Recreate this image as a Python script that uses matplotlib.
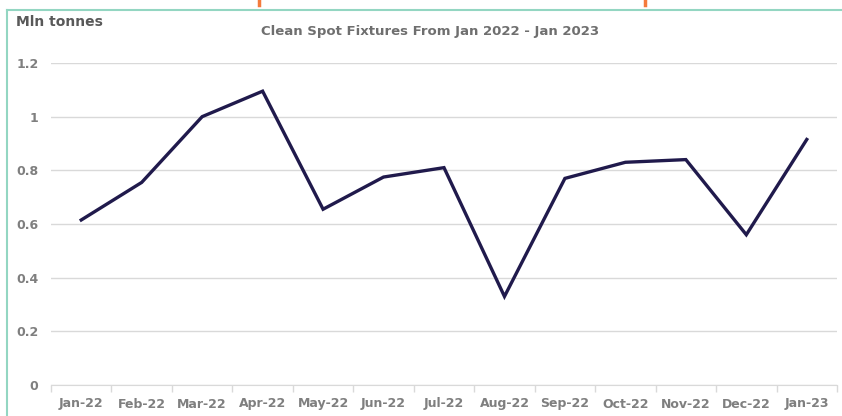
import matplotlib.pyplot as plt
from matplotlib.lines import Line2D
import numpy as np

months = ["Jan-22", "Feb-22", "Mar-22", "Apr-22", "May-22", "Jun-22", "Jul-22",
          "Aug-22", "Sep-22", "Oct-22", "Nov-22", "Dec-22", "Jan-23"]
fixtures = [0.615, 0.755, 1.0, 1.095, 0.655, 0.775, 0.81,
            0.33, 0.77, 0.83, 0.84, 0.56, 0.915]
yticks = [0, 0.2, 0.4, 0.6, 0.8, 1, 1.2]
ytick_labels = ["0", "0.2", "0.4", "0.6", "0.8", "1", "1.2"]

plt.rcParams['font.family'] = ['Liberation Sans Narrow', 'DejaVu Sans']
grey = "#7f7f7f"

fig = plt.figure(figsize=(8.42, 4.16), dpi=100)
ax = fig.add_axes([51/842, 1-385/416, (837-51)/842, (385-63)/416])

x = np.arange(len(months))
ax.plot(x, fixtures, color="#201a4c", linewidth=2.4, solid_joinstyle="miter")

ax.set_xlim(-0.5, len(months) - 0.5)
ax.set_ylim(0, 1.2)
ax.set_yticks(yticks)
ax.set_yticklabels(ytick_labels, fontsize=9, fontweight="bold", color=grey)
ax.tick_params(axis="y", length=0, pad=9)
ax.yaxis.grid(True, color="#d9d9d9", linewidth=1)
ax.set_axisbelow(True)

ax.set_xticks(x)
ax.set_xticklabels(months, fontsize=9, fontweight="bold", color=grey)
ax.tick_params(axis="x", length=0, pad=9)
ax.set_xticks(np.arange(len(months) + 1) - 0.5, minor=True)
ax.tick_params(axis="x", which="minor", length=5, color="#d9d9d9", width=1)

for s in ["top", "right", "left"]:
    ax.spines[s].set_visible(False)
ax.spines["bottom"].set_color("#d9d9d9")

fig.text(430/842, 1-32/416, "Clean Spot Fixtures From Jan 2022 - Jan 2023",
         ha="center", va="center", fontsize=9.5, fontweight="bold", color="#6f6f6f")
fig.text(16/842, 1-22/416, "Mln tonnes", ha="left", va="center",
         fontsize=10, fontweight="bold", color="#595959")

# frame around the panel
teal = "#93d6c2"
fig.add_artist(Line2D([7/842, 1], [1-10/416, 1-10/416], color=teal, linewidth=1.5,
                      transform=fig.transFigure))
fig.add_artist(Line2D([7/842, 7/842], [0, 1-10/416], color=teal, linewidth=1.5,
                      transform=fig.transFigure))
# cut-off orange text fragments at the top edge
for xp in [259, 645]:
    fig.add_artist(Line2D([xp/842, xp/842], [1, 1-5/416], color="#f47b3c",
                          linewidth=2.5, transform=fig.transFigure))

fig.savefig("out.png", dpi=100)
